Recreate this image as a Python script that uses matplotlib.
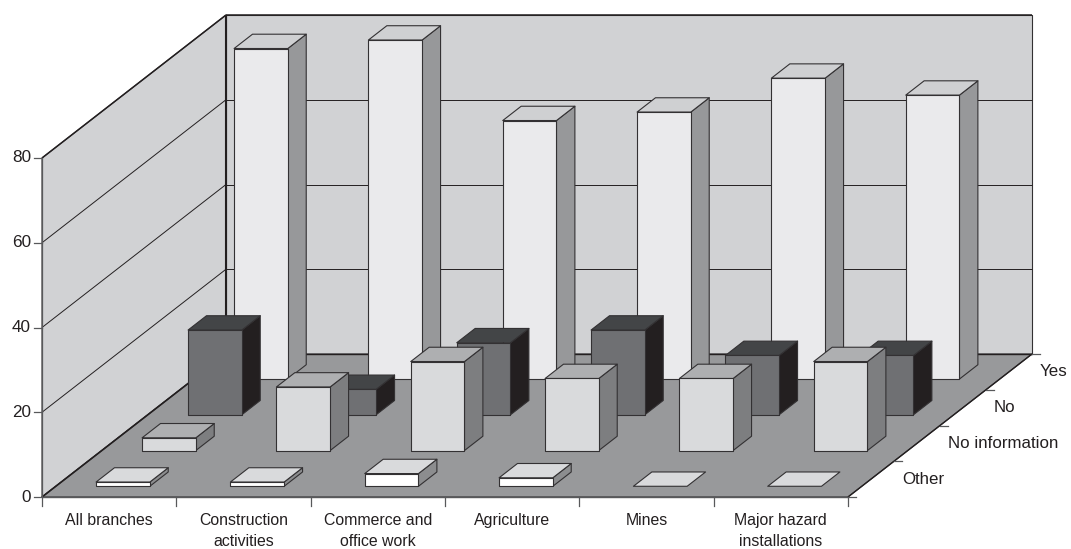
import matplotlib
matplotlib.use("Agg")
import matplotlib.pyplot as plt
from matplotlib.patches import Polygon

plt.rcParams['font.family'] = ['Liberation Sans', 'DejaVu Sans']

categories = ["All branches", "Construction\nactivities", "Commerce and\noffice work",
              "Agriculture", "Mines", "Major hazard\ninstallations"]
series_names = ["Other", "No information", "No", "Yes"]
other = [1, 1, 3, 2, 0, 0]
no_information = [3, 15, 21, 17, 17, 21]
no = [20, 6, 17, 20, 14, 14]
yes = [78, 80, 61, 63, 71, 67]
y_ticks = [0, 20, 40, 60, 80]

# front, top, side colours per series
bar_colors = [("#ffffff", "#d9dadc", "#8c8d8f"),
              ("#d9dadc", "#aeafb1", "#7d7e80"),
              ("#6f7073", "#434547", "#231f20"),
              ("#eaeaec", "#cfd0d2", "#97989a")]

DARK = "#231f20"
EDGE = "#333133"
# oblique projection: floor origin and the screen step of one unit along each axis
X0, Y0 = 42, 497
CAT_DX = 134.33
SER_DX, SER_DY = 46, 35.75
VAL_DY = 339 / 80


def project(cat, ser, val=0):
    return (X0 + cat * CAT_DX + ser * SER_DX, Y0 - ser * SER_DY - val * VAL_DY)


def face(ax, pts, color, zorder=2, lw=0.8, edge=EDGE):
    ax.add_patch(Polygon([project(*p) for p in pts], closed=True, facecolor=color,
                         edgecolor=edge, linewidth=lw, zorder=zorder, joinstyle="round"))


def line(ax, a, b, lw=0.8, color=DARK, dx=0, dy=0, zorder=1):
    pa, pb = project(*a), project(*b)
    ax.plot([pa[0], pb[0] + dx], [pa[1], pb[1] + dy], color=color, lw=lw,
            zorder=zorder, solid_capstyle="butt")


def draw_bar(ax, cat, ser, val, colors):
    c0, c1 = cat + 0.3, cat + 0.7
    s0, s1 = ser + 0.3, ser + 0.7
    front, top, side = colors
    if val == 0:
        face(ax, [(c0, s0, 0), (c1, s0, 0), (c1, s1, 0), (c0, s1, 0)], top, zorder=3)
        return
    face(ax, [(c1, s0, 0), (c1, s1, 0), (c1, s1, val), (c1, s0, val)], side, zorder=3)
    face(ax, [(c0, s0, val), (c1, s0, val), (c1, s1, val), (c0, s1, val)], top, zorder=3)
    face(ax, [(c0, s0, 0), (c1, s0, 0), (c1, s0, val), (c0, s0, val)], front, zorder=3)


fig = plt.figure(figsize=(10.71, 5.49), dpi=100)
ax = fig.add_axes([0, 0, 1, 1])
ax.set_xlim(0, 1071)
ax.set_ylim(549, 0)
ax.axis("off")

n_cat = len(categories)
n_ser = len(series_names)
top_val = y_ticks[-1]

# walls and floor
face(ax, [(0, n_ser, 0), (n_cat, n_ser, 0), (n_cat, n_ser, top_val), (0, n_ser, top_val)],
     "#d1d2d4", zorder=1, lw=0.8)
face(ax, [(0, 0, 0), (0, n_ser, 0), (0, n_ser, top_val), (0, 0, top_val)],
     "#d1d2d4", zorder=1, lw=0.8)
face(ax, [(0, 0, 0), (n_cat, 0, 0), (n_cat, n_ser, 0), (0, n_ser, 0)],
     "#98999b", zorder=1.5, lw=0.8)

for v in y_ticks[1:-1]:
    line(ax, (0, 0, v), (0, n_ser, v), lw=0.7, zorder=1.2)
    line(ax, (0, n_ser, v), (n_cat, n_ser, v), lw=0.7, zorder=1.2)

# heavier edges around the left wall and the back corner
line(ax, (0, 0, top_val), (0, n_ser, top_val), lw=1.1, zorder=1.6)
line(ax, (0, n_ser, 0), (0, n_ser, top_val), lw=1.5, zorder=1.6)
line(ax, (0, n_ser, top_val), (n_cat, n_ser, top_val), lw=1.1, zorder=1.6)
line(ax, (0, 0, 0), (0, n_ser, 0), lw=1.2, zorder=1.6)
line(ax, (n_cat, 0, 0), (n_cat, n_ser, 0), lw=1.0, zorder=1.6)
line(ax, (0, n_ser, 0), (n_cat, n_ser, 0), lw=1.0, zorder=1.6)
line(ax, (0, 0, 0), (n_cat, 0, 0), lw=1.0, color="#58595b", zorder=1.6)
line(ax, (0, 0, 0), (0, 0, top_val), lw=0.9, color="#58595b", zorder=1.6)

# back rows first so the nearer bars cover them
values = [other, no_information, no, yes]
for ser in range(n_ser - 1, -1, -1):
    for cat in range(n_cat):
        draw_bar(ax, cat, ser, values[ser][cat], bar_colors[ser])

# value axis
for v in y_ticks:
    x, y = project(0, 0, v)
    ax.plot([x - 8, x], [y, y], color="#58595b", lw=0.9, zorder=1.6)
    ax.text(x - 11, y, str(v), ha="right", va="center", fontsize=12.3, color=DARK)

# category axis
for i in range(n_cat + 1):
    x, y = project(i, 0)
    ax.plot([x, x], [y, y + 9], color="#58595b", lw=0.9, zorder=1.6)
for i, name in enumerate(categories):
    x, y = project(i + 0.5, 0)
    ax.text(x, y + 16, name, ha="center", va="top", fontsize=11.4, color=DARK,
            linespacing=1.5)

# depth axis
for s in range(n_ser + 1):
    x, y = project(n_cat, s)
    ax.plot([x, x + 8], [y, y], color="#58595b", lw=0.9, zorder=1.6)
for s, name in enumerate(series_names):
    x, y = project(n_cat, s + 0.5)
    ax.text(x + 31, y, name, ha="left", va="center", fontsize=12.2, color=DARK)

fig.savefig("out.png", dpi=100)
